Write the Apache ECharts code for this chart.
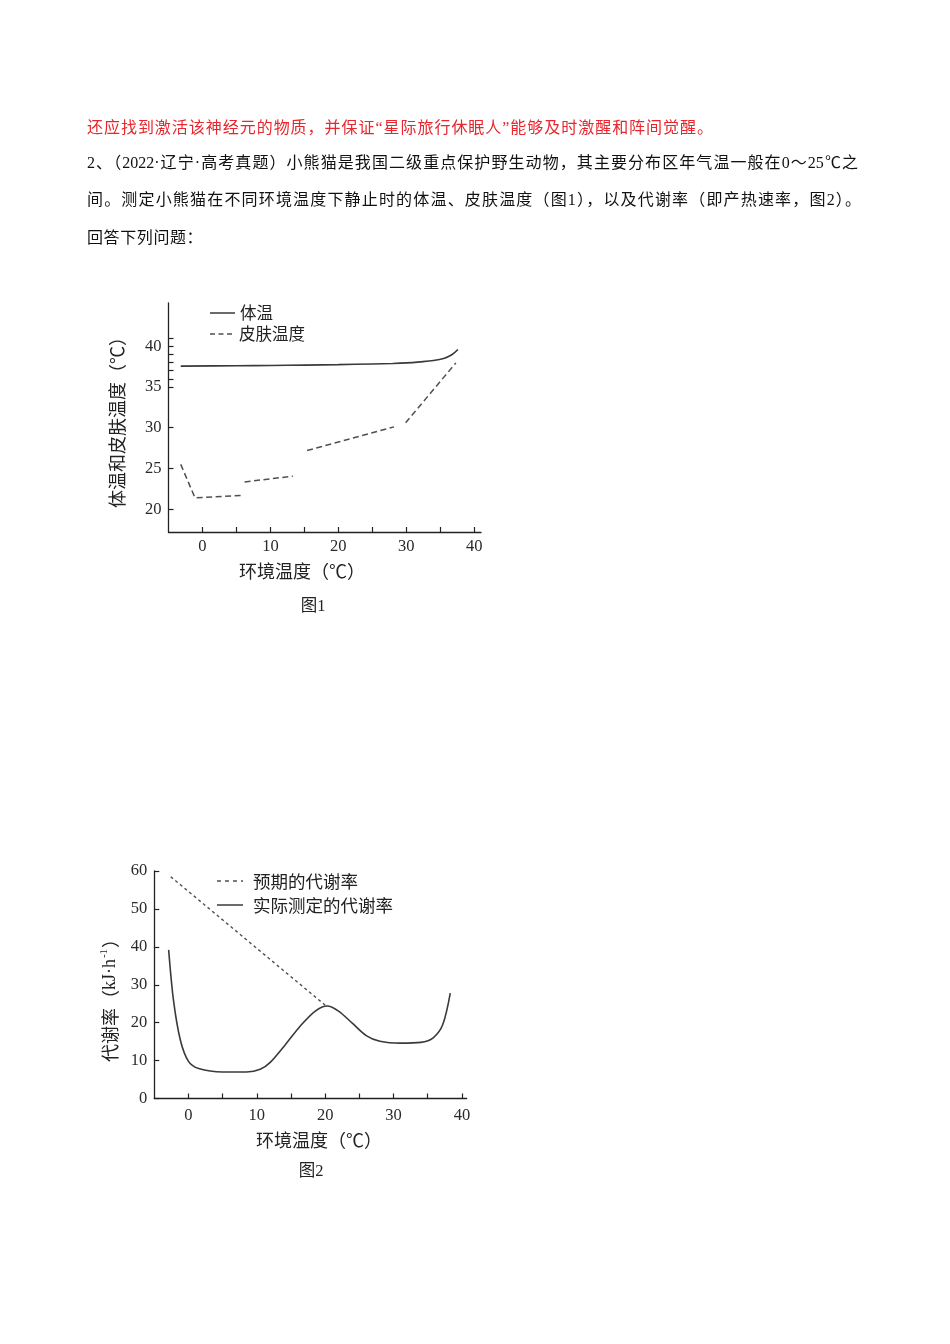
<!DOCTYPE html>
<html>
<head>
<meta charset="utf-8">
<script src="https://cdn.jsdelivr.net/npm/echarts@6/dist/echarts.min.js"></script>
<style>
html,body{margin:0;padding:0;background:#fff;}
#page{position:relative;width:950px;height:1344px;overflow:hidden;background:#fff;}
#chart{position:absolute;left:0;top:0;width:950px;height:1344px;}
.ln{position:absolute;left:87px;font-family:"Liberation Serif","Noto Sans CJK SC";font-size:16px;line-height:20px;height:20px;color:#111;white-space:normal;}
.j{text-align:justify;text-align-last:justify;}
</style>
</head>
<body>
<div id="page">
<div id="chart"></div>
<div class="ln j" style="top:118px;width:626px;color:#e8262d;">还应找到激活该神经元的物质，并保证“星际旅行休眠人”能够及时激醒和阵间觉醒。</div>
<div class="ln j" style="top:153px;width:771px;">2、（2022·辽宁·高考真题）小熊猫是我国二级重点保护野生动物，其主要分布区年气温一般在0～25℃之</div>
<div class="ln j" style="top:190px;width:774px;">间。测定小熊猫在不同环境温度下静止时的体温、皮肤温度（图1），以及代谢率（即产热速率，图2）。</div>
<div class="ln" style="top:228px;letter-spacing:0.6px;">回答下列问题：</div>
</div>
<script>
// ---- Figure 1 data ----
const fig1XTicks = [0, 5, 10, 15, 20, 25, 30, 35, 40];
const fig1XLabels = [0, 10, 20, 30, 40];
const fig1YTicks = [20, 25, 30, 35, 36, 37, 38, 39, 40, 41];
const fig1YLabels = [20, 25, 30, 35, 40];
const bodyTemp = [[-3.2, 37.55], [5, 37.6], [10, 37.63], [15, 37.68], [20, 37.74], [25, 37.82], [28, 37.88], [30, 37.95], [32, 38.08], [34, 38.25], [35.5, 38.5], [36.7, 38.95], [37.6, 39.6]];
const skinSeg1 = [[-3.2, 25.5], [-1.1, 21.4], [5.9, 21.7]];
const skinSeg2 = [[6.2, 23.35], [13.3, 24.05]];
const skinSeg3 = [[15.4, 27.2], [28.2, 30.1]];
const skinSeg4 = [[29.9, 30.6], [37.3, 37.95]];

// ---- Figure 2 data ----
const fig2XTicks = [0, 5, 10, 15, 20, 25, 30, 35, 40];
const fig2XLabels = [0, 10, 20, 30, 40];
const fig2YTicks = [0, 10, 20, 30, 40, 50, 60];
const expectedRate = [[-2.6, 58.5], [20, 24.6]];
const actualRate = [[-2.9, 39.2], [-2.2, 26], [-1.2, 15.5], [0, 9.8], [1.5, 7.9], [5, 7.0], [8.5, 7.0], [10.5, 7.7], [12, 9.6], [14, 13.8], [16.3, 19.0], [18.5, 23.0], [20.3, 24.4], [22, 23.0], [24, 19.8], [26, 16.6], [28, 15.1], [31, 14.6], [34, 14.8], [35.8, 16.0], [37.2, 19.5], [38.3, 27.8]];

const SERIF = 'Liberation Serif';
const MIX = '"Liberation Serif", "Noto Sans CJK SC"';
const SANS = '"Noto Sans CJK SC"';
const AX = '#222';
const LINEC = '#3a3a3a';
const DASHC = '#505050';

function xAxisCfg(grid, min, max, ticks, labels, margin) {
  return {
    type: 'value', gridIndex: grid, min: min, max: max,
    axisLine: {show: true, onZero: false, lineStyle: {color: AX, width: 1.3}},
    axisTick: {show: true, inside: true, length: 5, lineStyle: {color: AX, width: 1.2}, customValues: ticks},
    axisLabel: {show: true, margin: margin, color: '#2a2a2a', fontFamily: SERIF, fontSize: 16.5, customValues: labels},
    splitLine: {show: false}
  };
}
function yAxisCfg(grid, min, max, ticks, labels) {
  return {
    type: 'value', gridIndex: grid, min: min, max: max,
    axisLine: {show: true, onZero: false, lineStyle: {color: AX, width: 1.3}},
    axisTick: {show: true, inside: true, length: 5, lineStyle: {color: AX, width: 1.2}, customValues: ticks},
    axisLabel: {show: true, margin: 7, color: '#2a2a2a', fontFamily: SERIF, fontSize: 16.5, customValues: labels},
    splitLine: {show: false}
  };
}
function skinSeries(d) {
  return {type: 'line', xAxisIndex: 0, yAxisIndex: 0, data: d, symbol: 'none',
    lineStyle: {color: DASHC, width: 1.5, type: [6, 3.5]}};
}

const chart = echarts.init(document.getElementById('chart'), null, {renderer: 'canvas'});
const option = {
  animation: false,
  backgroundColor: 'transparent',
  grid: [
    {left: 168.5, top: 303, width: 312.5, height: 229, containLabel: false},
    {left: 154.3, top: 871, width: 312.4, height: 227.5, containLabel: false}
  ],
  xAxis: [
    xAxisCfg(0, -5, 41, fig1XTicks, fig1XLabels, 6),
    xAxisCfg(1, -5, 40.7, fig2XTicks, fig2XLabels, 9)
  ],
  yAxis: [
    yAxisCfg(0, 17.2, 45.3, fig1YTicks, fig1YLabels),
    yAxisCfg(1, 0, 60, fig2YTicks, fig2YTicks)
  ],
  series: [
    {type: 'line', xAxisIndex: 0, yAxisIndex: 0, data: bodyTemp, symbol: 'none', smooth: 0.35,
      lineStyle: {color: LINEC, width: 1.6}},
    skinSeries(skinSeg1), skinSeries(skinSeg2), skinSeries(skinSeg3), skinSeries(skinSeg4),
    {type: 'line', xAxisIndex: 1, yAxisIndex: 1, data: expectedRate, symbol: 'none',
      lineStyle: {color: DASHC, width: 1.4, type: [3, 3]}},
    {type: 'line', xAxisIndex: 1, yAxisIndex: 1, data: actualRate, symbol: 'none', smooth: 0.3,
      lineStyle: {color: LINEC, width: 1.6}}
  ],
  graphic: [
    // Figure 1 legend
    {type: 'line', shape: {x1: 210, y1: 313, x2: 235, y2: 313}, style: {stroke: LINEC, lineWidth: 1.5}},
    {type: 'text', x: 240, y: 313, style: {text: '体温', font: '16.5px ' + SANS, fill: '#222', verticalAlign: 'middle'}},
    {type: 'line', shape: {x1: 210, y1: 334, x2: 235, y2: 334}, style: {stroke: DASHC, lineWidth: 1.5, lineDash: [5, 3.5]}},
    {type: 'text', x: 239, y: 334, style: {text: '皮肤温度', font: '16.5px ' + SANS, fill: '#222', verticalAlign: 'middle'}},
    // Figure 1 axis names
    {type: 'text', x: 117, y: 418, rotation: Math.PI / 2,
      style: {text: '体温和皮肤温度（℃）', font: '18px ' + SANS, fill: '#222', align: 'center', verticalAlign: 'middle'}},
    {type: 'text', x: 302, y: 571,
      style: {text: '环境温度（℃）', font: '18px ' + SANS, fill: '#222', align: 'center', verticalAlign: 'middle'}},
    {type: 'text', x: 313, y: 607,
      style: {text: '图1', font: '16.5px ' + MIX, fill: '#222', align: 'center', verticalAlign: 'middle'}},
    // Figure 2 legend
    {type: 'line', shape: {x1: 217, y1: 881, x2: 243, y2: 881}, style: {stroke: DASHC, lineWidth: 1.5, lineDash: [4, 4]}},
    {type: 'text', x: 253, y: 881, style: {text: '预期的代谢率', font: '17.5px ' + SANS, fill: '#222', verticalAlign: 'middle'}},
    {type: 'line', shape: {x1: 217, y1: 905, x2: 243, y2: 905}, style: {stroke: LINEC, lineWidth: 1.5}},
    {type: 'text', x: 253, y: 905, style: {text: '实际测定的代谢率', font: '17.5px ' + SANS, fill: '#222', verticalAlign: 'middle'}},
    // Figure 2 axis names
    {type: 'text', x: 110, y: 996, rotation: Math.PI / 2,
      style: {text: '{c|代谢率（}{s|kJ·h}{sup|-1}{c|）}', fill: '#222', align: 'center', verticalAlign: 'middle',
        rich: {
          c: {fontSize: 18, fontFamily: SANS, fill: '#222', lineHeight: 22},
          s: {fontSize: 18, fontFamily: SERIF, fill: '#222', lineHeight: 22},
          sup: {fontSize: 11, fontFamily: SERIF, fill: '#222', verticalAlign: 'top', lineHeight: 22, padding: [0, 1, 0, 1]}
        }}},
    {type: 'text', x: 319, y: 1140,
      style: {text: '环境温度（℃）', font: '18px ' + SANS, fill: '#222', align: 'center', verticalAlign: 'middle'}},
    {type: 'text', x: 311, y: 1172,
      style: {text: '图2', font: '16.5px ' + MIX, fill: '#222', align: 'center', verticalAlign: 'middle'}}
  ]
};
chart.setOption(option);
</script>
</body>
</html>
